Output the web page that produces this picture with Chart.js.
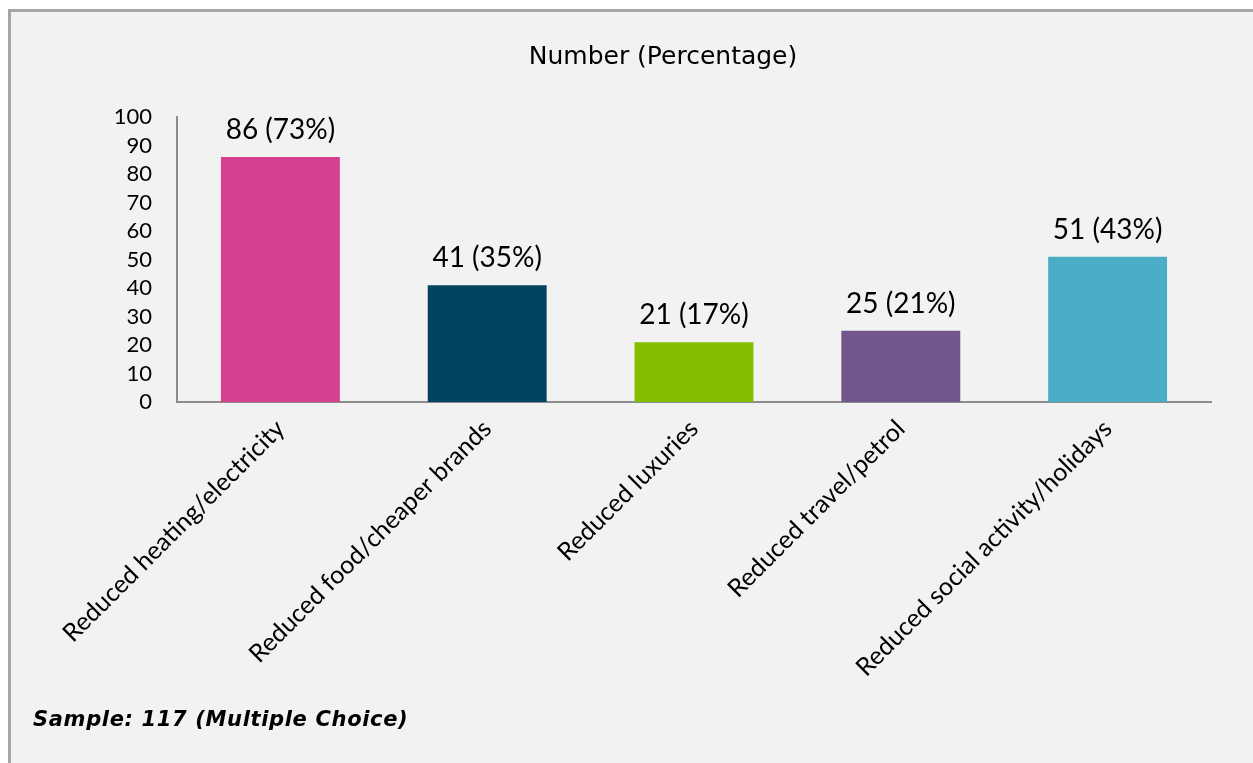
<!DOCTYPE html>
<html>
<head>
<meta charset="utf-8">
<script src="https://cdn.jsdelivr.net/npm/chart.js@4"></script>
<style>
    body { margin: 0; background: #ffffff; }
    #frame {
        position: absolute; left: 8px; top: 9px;
        width: 1242px; height: 751px;
        background: #f2f2f2;
        border-top: 3px solid #a6a6a6;
        border-left: 3px solid #a6a6a6;
    }
    #chart-box { position: absolute; left: 0; top: 0; width: 1242px; height: 751px; }
    #sample {
        position: absolute; left: 22px; top: 695px;
        font-family: "DejaVu Sans", sans-serif;
        font-weight: bold; font-style: italic; font-size: 21px;
        letter-spacing: 0.65px;
        color: #000;
    }
</style>
</head>
<body>
<div id="frame">
    <div id="chart-box"><canvas id="bar-chart-savings"></canvas></div>
    <div id="sample">Sample: 117 (Multiple Choice)</div>
</div>
<script>
const categories = [
    'Reduced heating/electricity',
    'Reduced food/cheaper brands',
    'Reduced luxuries',
    'Reduced travel/petrol',
    'Reduced social activity/holidays'
];
const counts = [86, 41, 21, 25, 51];
const percentages = [73, 35, 17, 21, 43];
const barColors = ['#d5408f', '#00445f', '#84bc00', '#71578e', '#4bacc6'];
const yTicks = [0, 10, 20, 30, 40, 50, 60, 70, 80, 90, 100];

// draws "86 (73%)" above each bar
const valueLabels = {
    id: 'valueLabels',
    afterDatasetsDraw(chart) {
        const ctx = chart.ctx;
        const meta = chart.getDatasetMeta(0);
        ctx.save();
        ctx.font = '28px Lato, sans-serif';
        ctx.fillStyle = '#000000';
        ctx.textAlign = 'center';
        ctx.textBaseline = 'alphabetic';
        meta.data.forEach((bar, i) => {
            ctx.fillText(counts[i] + ' (' + percentages[i] + '%)', bar.x, bar.y - 18);
        });
        ctx.restore();
    }
};

const ctxSavings = document.getElementById('bar-chart-savings').getContext('2d');
const savingsChart = new Chart(ctxSavings, {
    type: 'bar',
    data: {
        labels: categories,
        datasets: [{
            data: counts,
            backgroundColor: barColors,
            borderWidth: 0,
            categoryPercentage: 1,
            barPercentage: 0.575
        }]
    },
    options: {
        responsive: true,
        maintainAspectRatio: false,
        animation: false,
        layout: { padding: { left: 104, right: 42, top: 0, bottom: 0 } },
        plugins: {
            legend: { display: false },
            tooltip: { enabled: false },
            title: {
                display: true,
                text: 'Number (Percentage)',
                color: '#000000',
                font: { family: '"DejaVu Sans", sans-serif', size: 25, weight: 'normal' },
                padding: { top: 30, bottom: 45 }
            }
        },
        scales: {
            x: {
                grid: { display: false, drawTicks: false },
                border: { display: true, color: '#8c8c8c', width: 2 },
                ticks: {
                    color: '#000000',
                    font: { family: 'Lato, sans-serif', size: 25 },
                    minRotation: 45,
                    maxRotation: 45,
                    autoSkip: false,
                    padding: 12
                },
                afterFit: scale => { scale.height = 361; }
            },
            y: {
                min: 0,
                max: 100,
                afterBuildTicks: scale => { scale.ticks = yTicks.map(v => ({ value: v })); },
                grid: { display: false, drawTicks: false },
                border: { display: true, color: '#8c8c8c', width: 2 },
                ticks: {
                    color: '#000000',
                    font: { family: 'Lato, sans-serif', size: 22 },
                    autoSkip: false,
                    padding: 25
                },
                afterFit: scale => { scale.width = 62; }
            }
        }
    },
    plugins: [valueLabels]
});
</script>
</body>
</html>
